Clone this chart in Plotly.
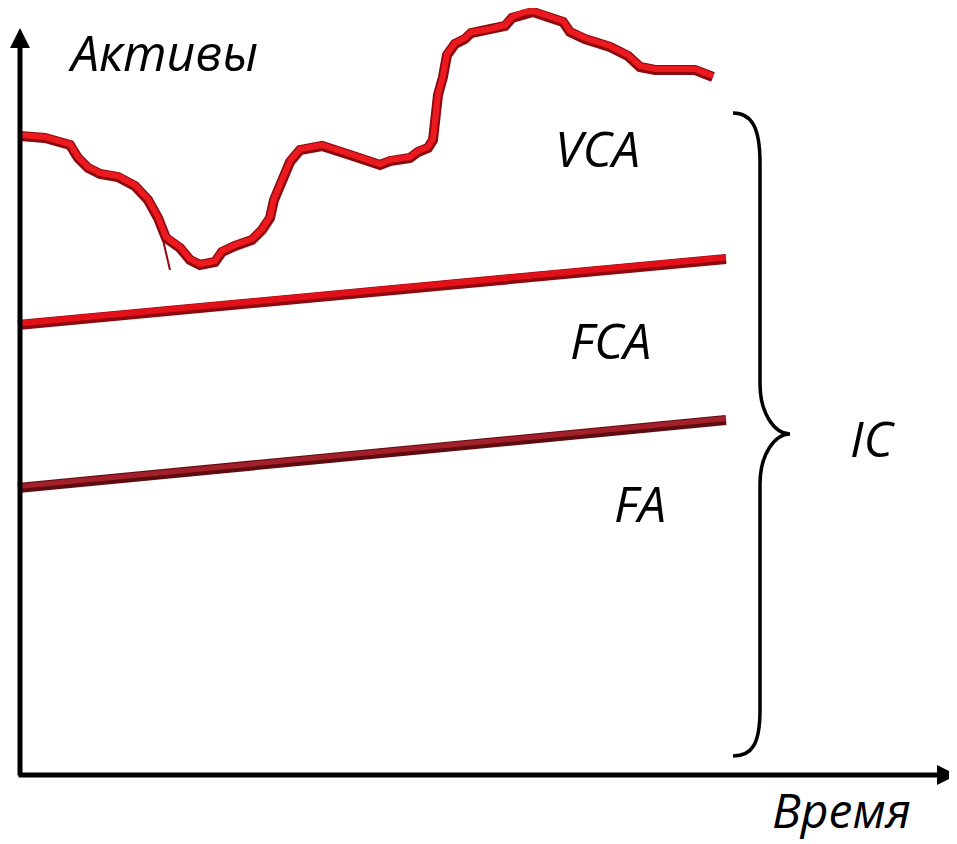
import plotly.graph_objects as go

# ---- data (time units, asset units; origin at the axes' corner) ----
wave_t = [0, 25, 50, 58, 68, 80, 98, 115, 128, 138, 146, 160, 170, 180, 195, 202, 215, 232, 242, 250,
          254, 262, 270, 280, 302, 330, 360, 370, 390, 398, 408, 413, 415, 418, 423, 427, 435, 445, 451, 470,
          485, 492, 505, 513, 543, 550, 565, 590, 608, 620, 635, 675, 693]
wave_v = [639, 637, 630, 617, 607, 601, 598, 589, 575, 557, 537, 527, 515, 510, 513, 523, 529, 535, 545, 557,
          575, 595, 613, 625, 629, 620, 610, 614, 617, 623, 627, 635, 657, 680, 698, 720, 731, 736, 742, 745,
          749, 757, 762, 763, 753, 743, 736, 728, 719, 708, 705, 705, 698]
spike_t = [143, 150]
spike_v = [535, 505]

fca_t = [-2, 706]
fca_v = [450, 516]
fa_t = [-2, 706]
fa_v = [287, 355]

# brace: x positions (tip, spine, cusp) and y levels
brace_x = [713, 740, 770]
brace_top, brace_mid, brace_bot = 662, 341, 19

axis_y_top = 747
axis_x_end = 937

labels = ["Активы", "VCA", "FCA", "FA", "IC", "Время"]
label_t = [143, 577, 590, 620, 853, 821]
label_v = [723, 627, 435, 272, 337, -34]
label_size = [50, 50, 50, 50, 50, 48]

fig = go.Figure()

def bevel_line(t, v, dark, main, wd, wm, dv=1.5):
    fig.add_trace(go.Scatter(x=t, y=v, mode="lines", line=dict(color=dark, width=wd),
                             hoverinfo="skip", showlegend=False))
    fig.add_trace(go.Scatter(x=t, y=[y + dv for y in v], mode="lines", line=dict(color=main, width=wm),
                             hoverinfo="skip", showlegend=False))

bevel_line(fa_t, fa_v, "#5e0c10", "#a3202a", 10, 5)
bevel_line(fca_t, fca_v, "#8c0a0e", "#e3101a", 10, 6)
fig.add_trace(go.Scatter(x=spike_t, y=spike_v, mode="lines", line=dict(color="#8c0a0e", width=2),
                         hoverinfo="skip", showlegend=False))
bevel_line(wave_t, wave_v, "#8c0a0e", "#ec1a1f", 10, 6, dv=1.0)

# brace
tx, sx, cx = brace_x
path = (f"M {tx},{brace_top} C {sx-8},{brace_top} {sx},{brace_top-15} {sx},{brace_top-50} "
        f"L {sx},{brace_mid+50} C {sx},{brace_mid+20} {sx+15},{brace_mid} {cx},{brace_mid} "
        f"C {sx+15},{brace_mid} {sx},{brace_mid-20} {sx},{brace_mid-50} "
        f"L {sx},{brace_bot+46} C {sx},{brace_bot+12} {sx-8},{brace_bot} {tx},{brace_bot}")
fig.add_shape(type="path", path=path, xref="x", yref="y", line=dict(color="black", width=3.5))

# axes with arrows
for (x, y, ax, ay) in [(0, axis_y_top, 0, -2), (axis_x_end, 0, -3, 0)]:
    fig.add_annotation(x=x, y=y, ax=ax, ay=ay, xref="x", yref="y", axref="x", ayref="y",
                       text="", showarrow=True, arrowhead=2, arrowwidth=5, arrowsize=0.8,
                       arrowcolor="black", standoff=0, startstandoff=0)

for txt, t, v, s in zip(labels, label_t, label_v, label_size):
    fig.add_annotation(x=t, y=v, xref="x", yref="y", text=txt, showarrow=False, borderpad=0,
                       font=dict(family="Open Sans", size=s, color="black", style="italic"))

# page body has an 8px margin; ranges compensate so the drawing sits where the reference does
fig.update_layout(width=957, height=844, margin=dict(l=0, r=0, t=0, b=0),
                  paper_bgcolor="white", plot_bgcolor="white", showlegend=False,
                  xaxis=dict(range=[-12, 945], visible=False, fixedrange=True),
                  yaxis=dict(range=[-77, 767], visible=False, fixedrange=True))
fig.write_html("out.html")
